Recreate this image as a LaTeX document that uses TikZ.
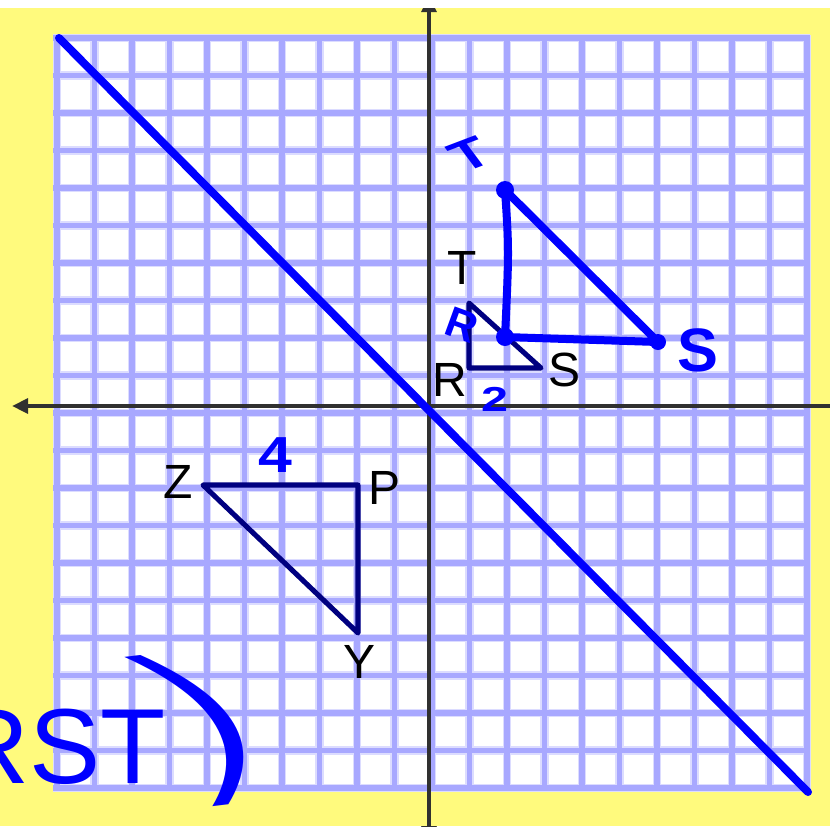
\documentclass[tikz,border=0pt]{standalone}
\usepackage{fontspec}
\setmainfont{Liberation Sans}
\newfontfamily\thinpen{DejaVuSans-ExtraLight.ttf}
\usetikzlibrary{arrows.meta}
\definecolor{padyellow}{RGB}{255,250,125}
\definecolor{gridblue}{RGB}{168,168,255}
\definecolor{gridhalo}{RGB}{220,220,255}
\definecolor{axisgray}{RGB}{48,48,48}
\definecolor{penblue}{RGB}{0,0,255}
\definecolor{inknavy}{RGB}{0,0,128}
\tikzset{
  gridglow/.style={gridhalo, line width=6.5pt},
  gridline/.style={gridblue, line width=4.2pt},
  axisline/.style={axisgray, line width=3.7pt, {Triangle[length=12pt,width=11pt]}-{Triangle[length=12pt,width=11pt]}},
  penline/.style={penblue, line width=6pt, line cap=round, line join=round},
  inkline/.style={inknavy, line width=3.8pt, line cap=round, line join=round},
  penfill/.style={fill=penblue},
  letter/.style={inner sep=0pt, font=\fontsize{36}{40}\selectfont},
  penletter/.style={inner sep=0pt, text=penblue, font=\bfseries\fontsize{#1}{#1}\selectfont},
  penplain/.style={inner sep=0pt, text=penblue, font=\fontsize{#1}{#1}\selectfont},
}
\begin{document}
\begin{tikzpicture}[x=0.75pt,y=-0.75pt]
	\useasboundingbox (0,0) rectangle (830,826);
	% Paper and grid:
	\fill[padyellow] (0,0) rectangle (830,826);
	\fill[white] (53,35) rectangle (810,791);
	\foreach \k in {0,...,20}{
		\draw[gridglow] ({57+37.5*\k},35) -- ({57+37.5*\k},791);
		\draw[gridglow] (53,{38+37.5*\k}) -- (810,{38+37.5*\k});
	}
	\foreach \k in {0,...,20}{
		\draw[gridline] ({57+37.5*\k},35) -- ({57+37.5*\k},791);
		\draw[gridline] (53,{38+37.5*\k}) -- (810,{38+37.5*\k});
	}
	% Axes:
	\coordinate (ytop) at (429,-4);
	\coordinate (ybot) at (429,842);
	\coordinate (xleft) at (12,406);
	\coordinate (xright) at (846,406);
	\draw[axisline] (ybot) -- (ytop);
	\draw[axisline] (xleft) -- (xright);
	% Line of reflection:
	\coordinate (diagA) at (59,38);
	\coordinate (diagB) at (808,792);
	\draw[penline] (diagA) -- (diagB);
	% Triangle RST and its labels:
	\coordinate (R) at (469,368);
	\coordinate (S) at (541,368);
	\coordinate (T) at (469,303);
	\draw[inkline] (R) -- (S) -- (T) -- cycle;
	\node[letter] (labT) at (462,268) {T};
	\node[letter] (labR) at (450,380) {R};
	\node[letter] (labS) at (564,370) {S};
	\node[penletter=26, xscale=1.4] (lab2) at (495,399) {2};
	% Dilated triangle R'S'T':
	\coordinate (Rd) at (505,337);
	\coordinate (Sd) at (658,342);
	\coordinate (Td) at (505,190);
	\draw[penline] (Rd) -- (Sd) -- (Td) .. controls (509,250) .. (Rd);
	\fill[penfill] (Rd) circle (9);
	\fill[penfill] (Td) circle (9);
	\fill[penfill] (Sd) circle (8);
	\node[penletter=32, xscale=1.4, rotate=28] (labTd) at (470,154) {T};
	\node[penletter=32, rotate=-20] (labRd) at (462,325) {R};
	\node[penletter=46] (labSd) at (698,350) {S};
	% Triangle ZPY:
	\coordinate (Z) at (203,485);
	\coordinate (P) at (358,485);
	\coordinate (Y) at (358,633);
	\draw[inkline] (Z) -- (P) -- (Y) -- cycle;
	\node[letter] (labZ) at (178,482) {Z};
	\node[letter] (labP) at (385,488) {P};
	\node[letter] (labY) at (360,662) {Y};
	\node[penletter=38, xscale=1.2] (lab4) at (275,455) {4};
	% Note in the corner:
	\node[penplain=80, anchor=base east] (note) at (166,783) {RST};
	\node[inner sep=0pt, text=penblue, font=\thinpen\fontsize{130}{130}\selectfont, xscale=2.2, rotate=15] (paren) at (200,728) {)};
	\fill[white] (0,0) rectangle (830,8);
\end{tikzpicture}
\end{document}
